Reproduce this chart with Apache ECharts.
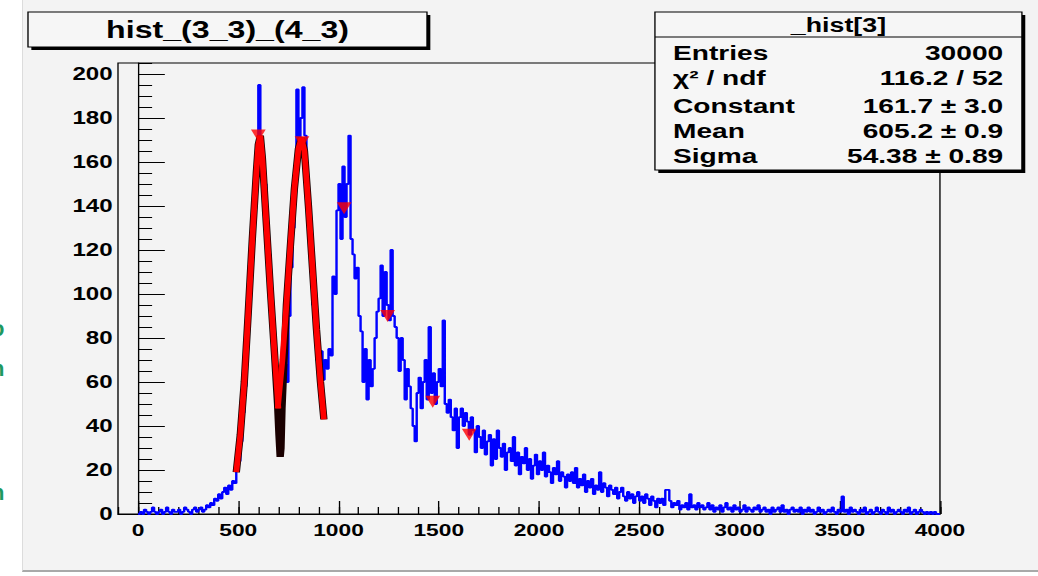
<!DOCTYPE html>
<html>
<head>
<meta charset="utf-8">
<script src="https://cdn.jsdelivr.net/npm/echarts/dist/echarts.min.js"></script>
<style>
    body { margin: 0; background: #ffffff; overflow: hidden; }
    #pad {
        position: absolute; left: 22px; top: 0; width: 1016px; height: 570px;
        background: #f3f3f3; border-left: 1px solid #dcdcdc; border-bottom: 2px solid #a9a9a9;
    }
    .side { position: absolute; left: -9px; color: #1e9960; font: bold 22px "Liberation Sans", Arial, sans-serif; }
    /* the picture is stretched sideways, so the chart is drawn narrow and scaled */
    #container {
        position: absolute; left: 0; top: 0; width: 775px; height: 576px;
        transform: scaleX(1.33935); transform-origin: 0 0;
    }
</style>
</head>
<body>
<div id="pad"></div>
<div class="side" style="top:316px">o</div>
<div class="side" style="top:356px">n</div>
<div class="side" style="top:480px">n</div>
<div id="container"></div>
<script>
// histogram bins of width 10, counts (one line = 100 units)
var binWidth = 10;
var counts = [
    0,1,0,2,1,0,1,3,1,0,
    1,2,0,1,3,1,0,2,1,1,
    2,0,1,3,2,1,0,2,3,1,
    2,3,1,2,4,3,5,4,7,6,
    9,7,10,12,9,13,11,15,14,22,
    24,33,46,58,80,94,116,128,148,160,
    195,165,152,150,128,118,95,82,60,50,
    32,27,55,68,60,90,112,130,150,193,
    170,180,194,172,150,138,110,95,90,70,
    62,74,61,70,66,75,72,108,100,138,
    150,125,158,135,150,172,125,118,107,112,
    90,83,60,75,52,70,58,66,80,92,
    98,113,90,110,95,88,120,90,85,80,
    65,80,70,52,66,58,48,40,33,55,
    62,48,60,70,52,85,55,64,50,60,
    66,58,88,50,46,52,44,38,48,30,
    44,48,40,46,42,36,44,38,28,40,
    35,30,38,27,33,36,22,34,25,38,
    30,26,32,20,28,30,24,35,22,28,
    18,26,23,30,20,25,16,22,27,18,
    24,20,28,17,22,19,14,21,18,24,
    15,19,17,12,18,15,19,14,21,12,
    16,13,18,10,15,12,16,9,13,11,
    19,10,14,12,8,13,11,9,12,7,
    10,12,8,6,10,7,9,5,8,10,
    6,8,5,9,7,4,8,6,3,7,
    5,7,4,11,11,6,3,5,4,6,
    2,4,3,5,2,9,3,4,2,5,
    3,4,2,3,5,2,4,1,3,2,
    4,1,3,5,2,3,1,4,2,3,
    1,2,4,1,3,2,1,3,2,4,
    1,2,3,1,2,0,3,1,2,3,
    1,4,1,2,0,2,3,1,2,1,
    3,0,2,1,3,1,2,0,1,3,
    1,2,0,1,2,1,3,1,0,2,
    1,8,1,2,0,3,1,2,1,0,
    2,1,3,0,1,2,0,1,3,1,
    0,2,1,0,3,1,2,0,1,2,
    1,0,2,1,3,0,1,2,0,1,
    2,1,0,1,0,1,0,1,0,0
];

// gaussian fits (red) and the combined curve (black)
var fit1 = [[490,19],[510,36],[530,60],[550,92],[570,125],[590,155],[600,168],[610,172],[620,162],[640,132],[660,102],[680,74],[700,48]];
var fit2 = [[697,48],[720,70],[740,95],[760,122],[780,148],[800,166],[815,171],[830,165],[850,140],[870,112],[890,84],[910,60],[927,43]];
var fitSum = [[490,19],[510,36],[530,60],[550,92],[570,125],[590,155],[600,168],[610,172],[620,162],[640,132],[660,102],[680,74],[696,50],[703,36],[709,26],[713,30],[718,48],[740,95],[760,122],[780,148],[800,166],[815,171],[830,165],[850,140],[870,112],[890,84],[910,60],[927,43]];

// peak markers
var peaks = [[600,172],[818,169],[1028,139],[1245,90],[1470,51],[1652,36]];

var xTicks = [0,500,1000,1500,2000,2500,3000,3500,4000];
var yTicks = [0,20,40,60,80,100,120,140,160,180,200];

var statNames = ['Entries', 'χ² / ndf', 'Constant', 'Mean', 'Sigma'];
var statValues = ['30000', '116.2 / 52', '161.7 ± 3.0', '605.2 ± 0.9', '54.38 ± 0.89'];

var histData = [];
for (var i = 0; i < counts.length; i++) {
    histData.push([i * binWidth, counts[i]]);
}
histData.push([counts.length * binWidth, counts[counts.length - 1]]);

var font = '"Liberation Sans", Arial, sans-serif';
var myChart = echarts.init(document.getElementById('container'), null, {renderer: 'svg'});

var statText = [];
var rowY = [53, 78, 106, 131, 156];
for (var k = 0; k < statNames.length; k++) {
    statText.push({
        type: 'text', z: 103, x: 502.5, y: rowY[k],
        style: {text: statNames[k], font: 'bold 21px ' + font, fill: '#000', textAlign: 'left', textVerticalAlign: 'middle'}
    });
    statText.push({
        type: 'text', z: 103, x: 749, y: rowY[k],
        style: {text: statValues[k], font: 'bold 21px ' + font, fill: '#000', textAlign: 'right', textVerticalAlign: 'middle'}
    });
}

var option = {
    animation: false,
    grid: {
        left: 88.1, right: 73.2, top: 63, bottom: 62,
        show: true, borderColor: '#000', borderWidth: 1, backgroundColor: 'transparent'
    },
    xAxis: [
        {
            type: 'value', min: -100, max: 4000, interval: 100, position: 'bottom',
            axisLine: {lineStyle: {color: '#000', width: 1}},
            axisTick: {inside: true, length: 7, lineStyle: {color: '#000'}},
            axisLabel: {show: false},
            splitLine: {show: false}
        },
        {
            type: 'value', min: -100, max: 4000, position: 'bottom',
            axisLine: {show: false},
            axisTick: {inside: true, length: 13, customValues: xTicks, lineStyle: {color: '#000'}},
            axisLabel: {
                customValues: xTicks, margin: 8, color: '#000', fontWeight: 'bold', fontSize: 17, fontFamily: font,
                formatter: function (v) { return String(v); }
            },
            splitLine: {show: false}
        }
    ],
    yAxis: [
        {
            type: 'value', min: 0, max: 205, interval: 5, position: 'left',
            axisLine: {show: true, lineStyle: {color: '#000', width: 1}},
            axisTick: {show: true, inside: true, length: 10.5, lineStyle: {color: '#000'}},
            axisLabel: {show: false},
            splitLine: {show: false}
        },
        {
            type: 'value', min: 0, max: 205, position: 'left',
            axisLine: {show: false},
            axisTick: {show: true, inside: true, length: 20, customValues: yTicks, lineStyle: {color: '#000'}},
            axisLabel: {
                customValues: yTicks, margin: 4, color: '#000', fontWeight: 'bold', fontSize: 18, fontFamily: font,
                formatter: function (v) { return String(v); }
            },
            splitLine: {show: false}
        }
    ],
    graphic: [
        // title box with its shadow
        {type: 'rect', z: 100, shape: {x: 23.4, y: 15, width: 297.9, height: 35}, style: {fill: '#000'}},
        {type: 'rect', z: 101, shape: {x: 20.9, y: 12, width: 297.9, height: 35}, style: {fill: '#f6f6f6', stroke: '#000', lineWidth: 1}},
        {type: 'text', z: 102, x: 169.9, y: 30,
            style: {text: 'hist_(3_3)_(4_3)', font: 'bold 24px ' + font, fill: '#000', textAlign: 'center', textVerticalAlign: 'middle'}},
        // stats box
        {type: 'rect', z: 100, shape: {x: 491.5, y: 15, width: 274, height: 158}, style: {fill: '#000'}},
        {type: 'rect', z: 101, shape: {x: 489, y: 12, width: 274, height: 158}, style: {fill: '#f6f6f6', stroke: '#000', lineWidth: 1}},
        {type: 'line', z: 102, shape: {x1: 489, y1: 37, x2: 763, y2: 37}, style: {stroke: '#000', lineWidth: 1}},
        {type: 'text', z: 103, x: 626, y: 25,
            style: {text: '_hist[3]', font: 'bold 20px ' + font, fill: '#000', textAlign: 'center', textVerticalAlign: 'middle'}}
    ].concat(statText),
    series: [
        {
            name: 'hist', type: 'line', step: 'end', data: histData,
            xAxisIndex: 0, yAxisIndex: 0, symbol: 'none', z: 2,
            lineStyle: {color: '#0000ff', width: 1.8}
        },
        {
            name: 'sum', type: 'line', data: fitSum, xAxisIndex: 0, yAxisIndex: 0,
            symbol: 'none', z: 3, lineStyle: {color: '#1a0000', width: 5.5}
        },
        {
            name: 'g1', type: 'line', data: fit1, xAxisIndex: 0, yAxisIndex: 0,
            symbol: 'none', z: 4, lineStyle: {color: '#ff0000', width: 4.3}
        },
        {
            name: 'g2', type: 'line', data: fit2, xAxisIndex: 0, yAxisIndex: 0,
            symbol: 'none', z: 4, lineStyle: {color: '#ff0000', width: 4.3}
        },
        {
            name: 'peaks', type: 'scatter', data: peaks, xAxisIndex: 0, yAxisIndex: 0,
            symbol: 'triangle', symbolRotate: 180, symbolSize: [11, 12], z: 5,
            itemStyle: {color: '#ff0000'}
        }
    ]
};
myChart.setOption(option);
</script>
</body>
</html>
